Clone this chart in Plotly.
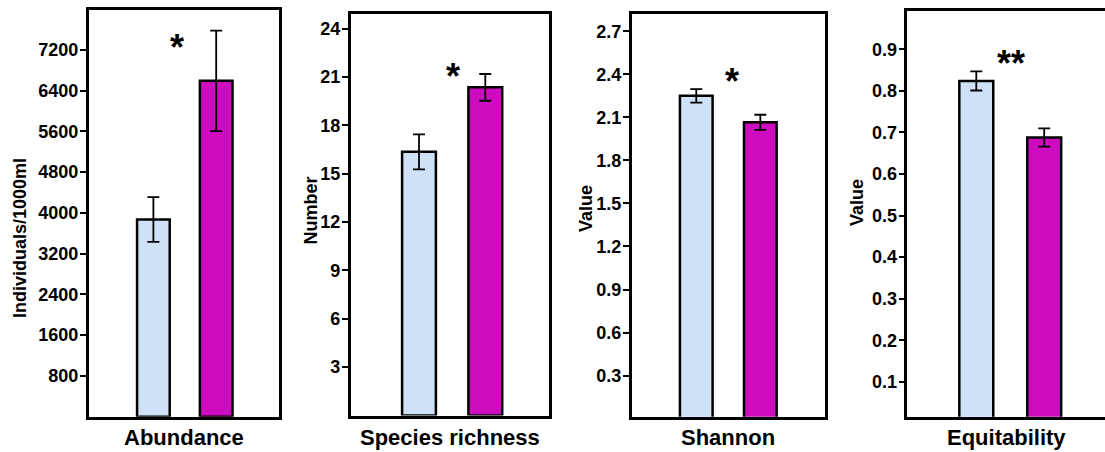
import plotly.graph_objects as go

# ---- data ----
groups = ["Group 1", "Group 2"]
panel_names = ["Abundance", "Species richness", "Shannon", "Equitability"]
y_titles = ["Individuals/1000ml", "Number", "Value", "Value"]
abundance_mean = [3870, 6590]
abundance_err = [440, 985]
richness_mean = [16.35, 20.35]
richness_err = [1.08, 0.83]
shannon_mean = [2.25, 2.065]
shannon_err = [0.047, 0.053]
equitability_mean = [0.824, 0.688]
equitability_err = [0.023, 0.022]
significance = ["*", "*", "*", "**"]
tick_vals = [
    [800, 1600, 2400, 3200, 4000, 4800, 5600, 6400, 7200],
    [3, 6, 9, 12, 15, 18, 21, 24],
    [0.3, 0.6, 0.9, 1.2, 1.5, 1.8, 2.1, 2.4, 2.7],
    [0.1, 0.2, 0.3, 0.4, 0.5, 0.6, 0.7, 0.8, 0.9],
]
tick_text = [
    ["800", "1600", "2400", "3200", "4000", "4800", "5600", "6400", "7200"],
    ["3", "6", "9", "12", "15", "18", "21", "24"],
    ["0.3", "0.6", "0.9", "1.2", "1.5", "1.8", "2.1", "2.4", "2.7"],
    ["0.1", "0.2", "0.3", "0.4", "0.5", "0.6", "0.7", "0.8", "0.9"],
]
means = [abundance_mean, richness_mean, shannon_mean, equitability_mean]
errs = [abundance_err, richness_err, shannon_err, equitability_err]

# ---- layout / style ----
W, H = 1105, 452
colors = ["#cfe1f6", "#cc0cbe"]
FONT = "Liberation Sans, Arial, sans-serif"
# panel boxes in pixels: (left, right, top, bottom)
boxes = [(88.7, 279, 10, 416.7), (350.7, 548.7, 14, 415.5),
         (631.7, 825, 14, 416.7), (907.3, 1105, 10.7, 416.7)]
x_ranges = [[-1.03, 2.0], [-1.03, 1.956], [-1.008, 2.01], [-1.016, 1.895]]
y_ranges = [[0, 7980], [0, 24.9], [0.014, 2.82], [0.016, 0.993]]
bar_widths = [0.52, 0.51, 0.51, 0.5]
ytitle_pos = [(20, 238), (310.5, 211), (586, 209), (857, 203)]
star_pos = [(177, 25), (452.7, 54), (732, 59), (1011, 41)]
xtitle_y = 437

fig = go.Figure()
layout = dict(width=W, height=H, margin=dict(l=0, r=0, t=0, b=0),
              plot_bgcolor="white", paper_bgcolor="white", showlegend=False,
              font=dict(family=FONT, color="black"))
annotations = []
for i in range(4):
    s = "" if i == 0 else str(i + 1)
    l, r, t, b = boxes[i]
    layout["xaxis" + s] = dict(
        domain=[l / W, min(r / W, 1.0)], range=x_ranges[i], anchor="y" + s,
        showticklabels=False, ticks="", showgrid=False, zeroline=False,
        showline=True, linecolor="black", linewidth=2.5, mirror=True,
        fixedrange=True)
    layout["yaxis" + s] = dict(
        domain=[1 - b / H, 1 - t / H], range=y_ranges[i], anchor="x" + s,
        tickvals=tick_vals[i], ticktext=tick_text[i], ticks="outside",
        ticklen=6, tickwidth=2, tickcolor="black", ticklabelstandoff=-2,
        tickfont=dict(family=FONT, size=18, weight="bold", color="black"),
        showgrid=False, zeroline=False, showline=True, linecolor="black",
        linewidth=2.5, mirror=(i < 3), fixedrange=True)
    fig.add_trace(go.Bar(
        x=groups, y=means[i], xaxis="x" + s, yaxis="y" + s,
        width=bar_widths[i], marker=dict(color=colors, line=dict(color="black", width=2.5)),
        error_y=dict(type="data", array=errs[i], visible=True, color="black",
                     thickness=1.8, width=6)))
    annotations.append(dict(
        text=panel_names[i], xref="paper", yref="paper",
        x=(l + r) / 2 / W if i < 3 else 1006 / W, y=1 - xtitle_y / H,
        xanchor="center", yanchor="middle", showarrow=False,
        font=dict(family=FONT, size=22, weight="bold", color="black")))
    yx, yy = ytitle_pos[i]
    annotations.append(dict(
        text=y_titles[i], xref="paper", yref="paper", x=yx / W, y=1 - yy / H,
        xanchor="center", yanchor="middle", textangle=-90, showarrow=False,
        font=dict(family=FONT, size=18, weight="bold", color="black")))
    sx, sy = star_pos[i]
    annotations.append(dict(
        text=significance[i], xref="paper", yref="paper", x=sx / W, y=1 - sy / H,
        xanchor="center", yanchor="top", showarrow=False,
        font=dict(family=FONT, size=36, weight="bold", color="black")))

layout["annotations"] = annotations
fig.update_layout(**layout)
fig.write_html("out.html", config={"displayModeBar": False},
               post_script="document.body.style.margin='0';")
